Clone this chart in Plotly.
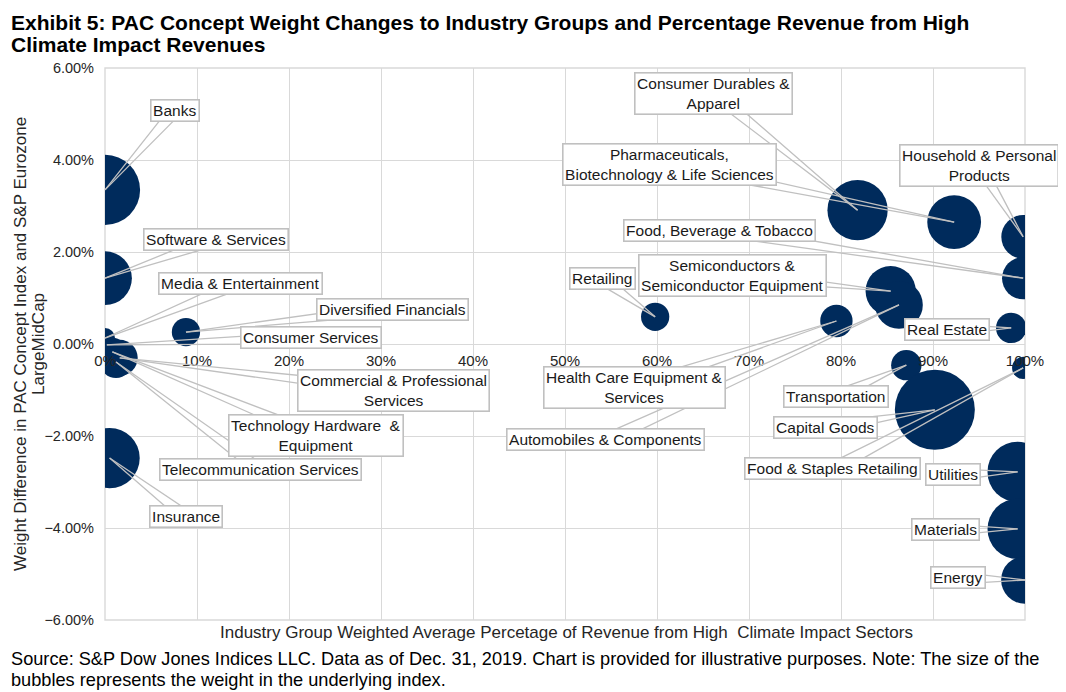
import math
import plotly.graph_objects as go

# ---------------- data ----------------
groups = [
    "Banks", "Software & Services", "Media & Entertainment", "Diversified Financials",
    "Consumer Services", "Commercial & Professional Services",
    "Technology Hardware & Equipment", "Telecommunication Services", "Insurance",
    "Retailing", "Consumer Durables & Apparel",
    "Pharmaceuticals, Biotechnology & Life Sciences", "Household & Personal Products",
    "Food, Beverage & Tobacco", "Semiconductors & Semiconductor Equipment",
    "Automobiles & Components", "Health Care Equipment & Services", "Real Estate",
    "Transportation", "Capital Goods", "Food & Staples Retailing", "Utilities",
    "Materials", "Energy",
]
# share of revenue from high climate impact sectors (fraction)
revenue_share = [
    0.000, 0.000, 0.000, 0.088,
    0.002, 0.016,
    0.008, 0.012, 0.005,
    0.598, 0.818,
    0.923, 0.998,
    0.998, 0.854,
    0.863, 0.795, 0.985,
    0.871, 0.902, 0.998, 0.992,
    0.992, 1.000,
]
# weight difference PAC Concept vs S&P Eurozone LargeMidCap (%)
weight_diff = [
    3.35, 1.43, 0.13, 0.26,
    -0.02, -0.30,
    -0.17, -0.39, -2.48,
    0.59, 2.91,
    2.65, 2.33,
    1.43, 1.15,
    0.85, 0.50, 0.35,
    -0.46, -1.43, -0.52, -2.78,
    -4.02, -5.13,
]
# weight in the underlying index (%), bubble area
index_weight = [
    8.0, 4.7, 0.65, 1.3,
    0.4, 2.1,
    1.3, 1.7, 5.9,
    1.3, 5.9,
    4.7, 3.1,
    2.9, 4.1,
    3.7, 1.7, 1.5,
    1.5, 10.4, 0.8, 5.9,
    5.9, 3.7,
]
# label texts as shown
label_text = [
    "Banks", "Software & Services", "Media & Entertainment", "Diversified Financials",
    "Consumer Services", "Commercial & Professional<br>Services",
    "Technology Hardware  &<br>Equipment", "Telecommunication Services", "Insurance",
    "Retailing", "Consumer Durables &<br>Apparel",
    "Pharmaceuticals,<br>Biotechnology & Life Sciences", "Household & Personal<br>Products",
    "Food, Beverage & Tobacco", "Semiconductors &<br>Semiconductor Equipment",
    "Automobiles & Components", "Health Care Equipment &<br>Services", "Real Estate",
    "Transportation", "Capital Goods", "Food & Staples Retailing", "Utilities",
    "Materials", "Energy",
]

# ---------------- layout helpers (label offsets in pixels) ----------------
label_offset = [
    (70, -79), (111, -39), (135, -55), (207, -23),
    (204, -7), (274, 33),
    (204, 84), (144, 108), (76, 58),
    (-53, -38), (-144, -117),
    (-285, -58), (-44, -71),
    (-304, -48), (-158, -16),
    (-293, 135), (-202, 66), (-64, 2),
    (-70, 31), (-109, 18), (-191, 101), (-65, 3),
    (-72, 1), (-67, -2),
]

FONT = "Arial, Liberation Sans, sans-serif"
NAVY = "#002B5C"
GRID = "#d9d9d9"
LEAD = "#c0c0c0"

# page geometry (the html body adds an 8px offset)
PL, PT, PW, PH = 105, 68, 920, 552   # plot area in page pixels
OFF = 8


def px_x(p):
    return (p - PL) / PW


def px_y(p):
    return (PT + PH - p) / PH


fig = go.Figure()
fig.add_trace(go.Scatter(
    x=revenue_share,
    y=[v / 100 for v in weight_diff],
    mode="markers",
    text=groups,
    marker=dict(
        size=index_weight,
        sizemode="area",
        sizeref=0.00325,
        color=NAVY,
        line=dict(width=0),
        opacity=1,
    ),
    cliponaxis=True,
    hovertemplate="%{text}<extra></extra>",
    showlegend=False,
))

annotations = []
# wedge-style leader lines (two thin lines per callout)
half_w = 6
for xv, yv, (ax, ay) in zip(revenue_share, weight_diff, label_offset):
    L = math.hypot(ax, ay)
    px, py = -ay / L, ax / L
    for s in (-1, 1):
        annotations.append(dict(
            x=xv, y=yv / 100, xref="x", yref="y",
            ax=ax + s * half_w * px, ay=ay + s * half_w * py,
            text="", showarrow=True, arrowhead=0, arrowwidth=1.3,
            arrowcolor=LEAD, standoff=0, startstandoff=0,
        ))
# label boxes
for xv, yv, (ax, ay), t in zip(revenue_share, weight_diff, label_offset, label_text):
    annotations.append(dict(
        x=xv, y=yv / 100, xref="x", yref="y", ax=ax, ay=ay,
        text=t, showarrow=True, arrowhead=0, arrowwidth=0.1,
        arrowcolor="rgba(0,0,0,0)",
        font=dict(family=FONT, size=15.5, color="#1a1a1a"),
        bgcolor="white", bordercolor=LEAD, borderwidth=1.6, borderpad=1.5,
        align="center",
    ))

# title (two lines)
for txt, yc in [("<b>Exhibit 5: PAC Concept Weight Changes to Industry Groups and Percentage Revenue from High</b>", 23),
                ("<b>Climate Impact Revenues</b>", 45)]:
    annotations.append(dict(
        xref="paper", yref="paper", x=px_x(8.5), y=px_y(yc), xanchor="left", yanchor="middle",
        text=txt, showarrow=False, font=dict(family=FONT, size=21, color="#000000"),
    ))
# x-axis title
annotations.append(dict(
    xref="paper", yref="paper", x=px_x(566), y=px_y(632), xanchor="center", yanchor="middle",
    text="Industry Group Weighted Average Percetage of Revenue from High  Climate Impact Sectors",
    showarrow=False, font=dict(family=FONT, size=17, color="#262626"),
))
# y-axis title (two lines)
for txt, xc in [("Weight Difference in PAC Concept Index and S&P Eurozone", 20),
                ("LargeMidCap", 38)]:
    annotations.append(dict(
        xref="paper", yref="paper", x=px_x(xc), y=px_y(344), xanchor="center", yanchor="middle",
        textangle=-90, text=txt, showarrow=False,
        font=dict(family=FONT, size=17, color="#262626"),
    ))
# source note (two lines)
for txt, yc in [("Source: S&P Dow Jones Indices LLC. Data as of Dec. 31, 2019. Chart is provided for "
                 "illustrative purposes. Note: The size of the", 659),
                ("bubbles represents the weight in the underlying index.", 680)]:
    annotations.append(dict(
        xref="paper", yref="paper", x=px_x(8.5), y=px_y(yc), xanchor="left", yanchor="middle",
        text=txt, showarrow=False, font=dict(family=FONT, size=18.2, color="#000000"),
    ))

fig.update_layout(
    width=1066 - OFF, height=692 - OFF,
    margin=dict(l=PL - OFF, r=1066 - PL - PW, t=PT - OFF, b=692 - PT - PH),
    paper_bgcolor="white", plot_bgcolor="white",
    annotations=annotations,
    xaxis=dict(
        range=[0, 1], dtick=0.1, tick0=0, tickformat=".0%",
        showgrid=True, gridcolor=GRID, gridwidth=1.4,
        zeroline=False, showline=False,
        anchor="free", position=0.5,
        tickfont=dict(family=FONT, size=15, color="#262626"),
        ticks="", ticklabelstandoff=6, fixedrange=True,
    ),
    yaxis=dict(
        range=[-0.06, 0.06], dtick=0.02, tick0=0, tickformat=".2%",
        showgrid=True, gridcolor=GRID, gridwidth=1.4,
        zeroline=True, zerolinecolor=GRID, zerolinewidth=1.4,
        showline=False,
        tickfont=dict(family=FONT, size=14.5, color="#262626"),
        ticks="", ticklabelstandoff=10, fixedrange=True,
    ),
    shapes=[dict(type="rect", xref="paper", yref="paper", x0=0, x1=1, y0=0, y1=1,
                 line=dict(color=GRID, width=1.4), fillcolor="rgba(0,0,0,0)", layer="below")],
)

fig.write_html("out.html")
